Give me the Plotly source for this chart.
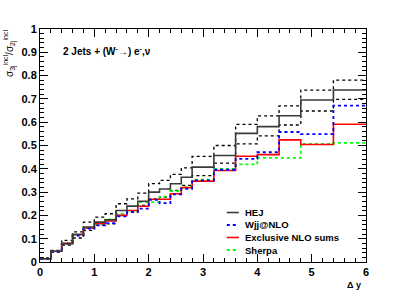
import plotly.graph_objects as go

edges = [0.0, 0.2, 0.4, 0.6, 0.8, 1.0, 1.2, 1.4, 1.6, 1.8, 2.0, 2.2, 2.4, 2.6, 2.8,
         3.2, 3.6, 4.0, 4.4, 4.8, 5.4, 6.0]

hej = [0.014, 0.046, 0.079, 0.119, 0.150, 0.171, 0.181, 0.221, 0.240, 0.261, 0.300,
       0.313, 0.336, 0.364, 0.407, 0.457, 0.552, 0.581, 0.628, 0.695, 0.738]
hej_up = [0.018, 0.050, 0.093, 0.129, 0.171, 0.193, 0.207, 0.250, 0.271, 0.296, 0.336,
          0.350, 0.376, 0.404, 0.453, 0.500, 0.591, 0.627, 0.670, 0.738, 0.781]
hej_dn = [0.012, 0.042, 0.072, 0.103, 0.136, 0.157, 0.164, 0.200, 0.214, 0.243, 0.271,
          0.279, 0.307, 0.329, 0.371, 0.424, 0.507, 0.541, 0.588, 0.648, 0.698]
wjj = [0.013, 0.045, 0.078, 0.113, 0.143, 0.157, 0.167, 0.196, 0.214, 0.229, 0.267,
       0.253, 0.290, 0.314, 0.350, 0.396, 0.443, 0.471, 0.558, 0.549, 0.671]
excl = [0.014, 0.046, 0.080, 0.117, 0.146, 0.164, 0.176, 0.200, 0.221, 0.239, 0.269,
        0.269, 0.293, 0.319, 0.347, 0.393, 0.454, 0.461, 0.524, 0.504, 0.591]
sherpa = [0.013, 0.047, 0.080, 0.115, 0.147, 0.161, 0.183, 0.207, 0.219, 0.257, 0.257,
          0.281, 0.304, 0.321, 0.353, 0.400, 0.419, 0.447, 0.447, 0.507, 0.511]

y_ticks = [0, 0.1, 0.2, 0.3, 0.4, 0.5, 0.6, 0.7, 0.8, 0.9, 1.0]
y_labels = ["0", "0.1", "0.2", "0.3", "0.4", "0.5", "0.6", "0.7", "0.8", "0.9", "1"]
x_ticks = [0, 1, 2, 3, 4, 5, 6]
x_labels = ["0", "1", "2", "3", "4", "5", "6"]

series_names = ["HEJ", "Wjj@NLO", "Exclusive NLO sums", "Sherpa"]
series_styles = [
    dict(color="#3a3a3a", width=1.6, dash="solid"),
    dict(color="#0000ff", width=1.8, dash="dot"),
    dict(color="#ff0000", width=1.6, dash="solid"),
    dict(color="#00ff00", width=1.8, dash="dot"),
]


def step(vals):
    return vals + [vals[-1]]


fig = go.Figure()
fig.add_trace(go.Scatter(x=edges, y=step(hej_up), mode="lines", line_shape="hv",
                         line=dict(color="black", width=1.3, dash="dot"), showlegend=False))
fig.add_trace(go.Scatter(x=edges, y=step(hej_dn), mode="lines", line_shape="hv",
                         line=dict(color="black", width=1.3, dash="dot"), showlegend=False))
for vals, nm, st in reversed(list(zip([hej, wjj, excl, sherpa], series_names, series_styles))):
    fig.add_trace(go.Scatter(x=edges, y=step(vals), mode="lines", line_shape="hv",
                             line=st, name=nm, showlegend=False))

fig.update_layout(
    width=407, height=292,
    margin=dict(l=40, r=41, t=29, b=30, autoexpand=False),
    paper_bgcolor="white", plot_bgcolor="white",
    showlegend=False,
    font=dict(family="Liberation Sans"),
)
axis_common = dict(showline=True, linecolor="black", linewidth=1, mirror="allticks",
                   ticks="inside", tickcolor="black", showgrid=False, zeroline=False,
                   automargin=False,
                   tickfont=dict(family="Liberation Sans", size=11, color="black", weight="bold"))
fig.update_xaxes(range=[0, 6], tickvals=x_ticks, ticktext=x_labels, ticklen=8,
                 minor=dict(ticks="inside", ticklen=4, dtick=0.2, tickcolor="black"),
                 **axis_common)
fig.update_yaxes(range=[0, 1], tickvals=y_ticks, ticktext=y_labels, ticklen=8,
                 minor=dict(ticks="inside", ticklen=4, dtick=0.02, tickcolor="black"),
                 **axis_common)

# legend drawn manually (compact ROOT-style)
leg_y = [0.2124, 0.1588, 0.1052, 0.0515]
for yy, nm, st in zip(leg_y, series_names, series_styles):
    fig.add_shape(type="line", xref="paper", yref="paper", x0=0.573, x1=0.610, y0=yy, y1=yy,
                  line=st)
    fig.add_annotation(x=0.622, y=yy, xref="paper", yref="paper", xanchor="left",
                       yanchor="middle", text=nm, showarrow=False,
                       font=dict(family="Liberation Sans", size=9.5, color="black", weight="bold"))

fig.add_annotation(x=0.065, y=0.905, xref="paper", yref="paper", xanchor="left", yanchor="middle",
                   text="2 Jets + (W<sup>-</sup>→) e<sup>-</sup>,ν", showarrow=False,
                   font=dict(family="Liberation Sans", size=10, color="black", weight="bold"))
fig.add_annotation(x=-0.093, y=1.005, xref="paper", yref="paper", xanchor="center", yanchor="top",
                   showarrow=False,
                   text="σ<sub>3j</sub><sup>incl</sup>/σ<sub>2j</sub><sup>incl</sup>",
                   textangle=-90, font=dict(family="Liberation Sans", size=10, color="black"))
fig.add_annotation(x=0.99, y=-0.07, xref="paper", yref="paper", xanchor="right", yanchor="top",
                   text="Δ y", showarrow=False,
                   font=dict(family="Liberation Sans", size=9, color="black", weight="bold"))

fig.write_html("out.html", post_script="document.body.style.margin='0';",
               config={"displayModeBar": False})
